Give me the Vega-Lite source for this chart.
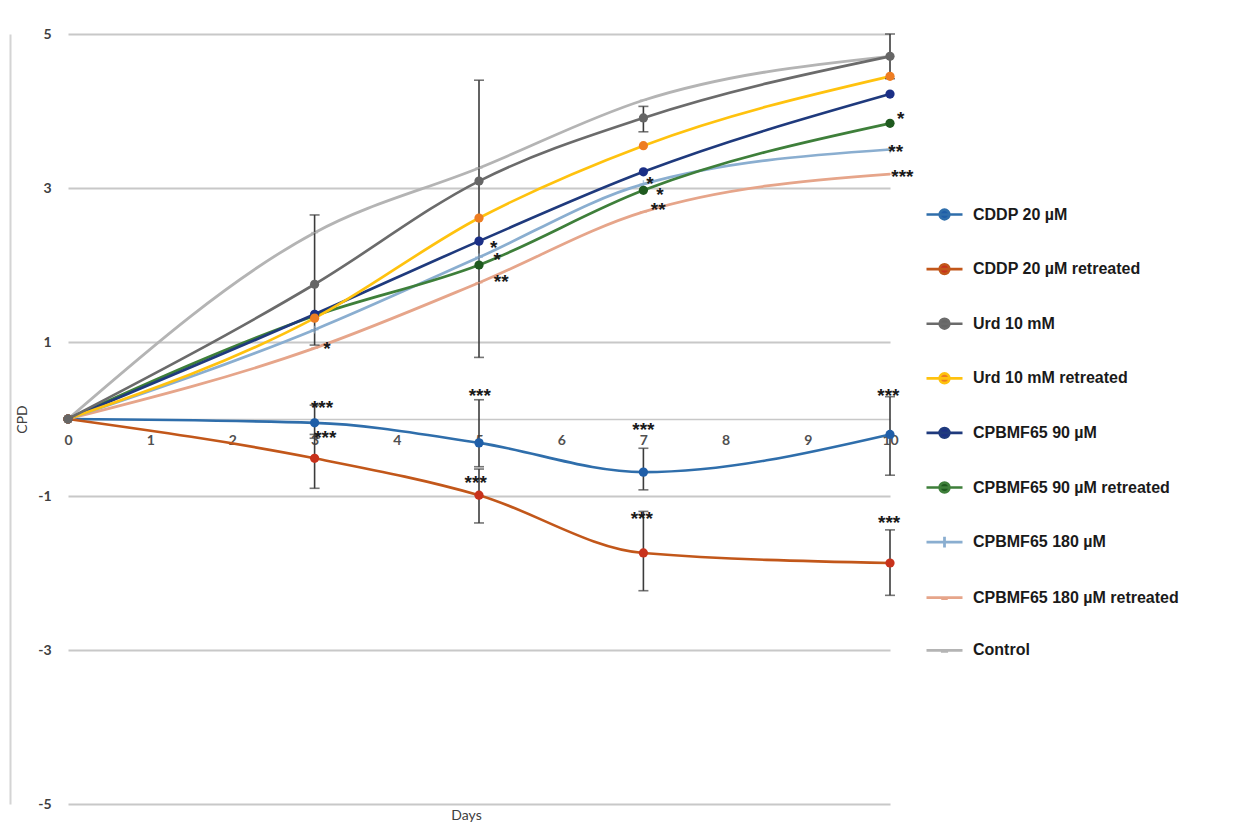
{
  "$schema": "https://vega.github.io/schema/vega-lite/v6.json",
  "width": 822,
  "height": 770,
  "autosize": {"type": "none"},
  "padding": {"left": 68, "top": 34, "right": 346, "bottom": 28},
  "background": "white",
  "config": {
    "view": {"stroke": null},
    "font": "Lato"
  },
  "datasets": {
    "cpd": [
      {"series": "CDDP 20 µM", "day": 0, "cpd": 0},
      {"series": "CDDP 20 µM", "day": 3, "cpd": -0.05},
      {"series": "CDDP 20 µM", "day": 5, "cpd": -0.31},
      {"series": "CDDP 20 µM", "day": 7, "cpd": -0.69},
      {"series": "CDDP 20 µM", "day": 10, "cpd": -0.2},
      {"series": "CDDP 20 µM retreated", "day": 0, "cpd": 0},
      {"series": "CDDP 20 µM retreated", "day": 3, "cpd": -0.51},
      {"series": "CDDP 20 µM retreated", "day": 5, "cpd": -0.99},
      {"series": "CDDP 20 µM retreated", "day": 7, "cpd": -1.74},
      {"series": "CDDP 20 µM retreated", "day": 10, "cpd": -1.87},
      {"series": "Control", "day": 0, "cpd": 0},
      {"series": "Control", "day": 3, "cpd": 2.42},
      {"series": "Control", "day": 5, "cpd": 3.26},
      {"series": "Control", "day": 7, "cpd": 4.14},
      {"series": "Control", "day": 10, "cpd": 4.71},
      {"series": "CPBMF65 180 µM retreated", "day": 0, "cpd": 0},
      {"series": "CPBMF65 180 µM retreated", "day": 3, "cpd": 0.92},
      {"series": "CPBMF65 180 µM retreated", "day": 5, "cpd": 1.77},
      {"series": "CPBMF65 180 µM retreated", "day": 7, "cpd": 2.69},
      {"series": "CPBMF65 180 µM retreated", "day": 10, "cpd": 3.18},
      {"series": "CPBMF65 180 µM", "day": 0, "cpd": 0},
      {"series": "CPBMF65 180 µM", "day": 3, "cpd": 1.16},
      {"series": "CPBMF65 180 µM", "day": 5, "cpd": 2.1},
      {"series": "CPBMF65 180 µM", "day": 7, "cpd": 3.05},
      {"series": "CPBMF65 180 µM", "day": 10, "cpd": 3.5},
      {"series": "CPBMF65 90 µM retreated", "day": 0, "cpd": 0},
      {"series": "CPBMF65 90 µM retreated", "day": 3, "cpd": 1.34},
      {"series": "CPBMF65 90 µM retreated", "day": 5, "cpd": 2.0},
      {"series": "CPBMF65 90 µM retreated", "day": 7, "cpd": 2.97},
      {"series": "CPBMF65 90 µM retreated", "day": 10, "cpd": 3.84},
      {"series": "CPBMF65 90 µM", "day": 0, "cpd": 0},
      {"series": "CPBMF65 90 µM", "day": 3, "cpd": 1.36},
      {"series": "CPBMF65 90 µM", "day": 5, "cpd": 2.31},
      {"series": "CPBMF65 90 µM", "day": 7, "cpd": 3.21},
      {"series": "CPBMF65 90 µM", "day": 10, "cpd": 4.22},
      {"series": "Urd 10 mM retreated", "day": 0, "cpd": 0},
      {"series": "Urd 10 mM retreated", "day": 3, "cpd": 1.31},
      {"series": "Urd 10 mM retreated", "day": 5, "cpd": 2.61},
      {"series": "Urd 10 mM retreated", "day": 7, "cpd": 3.55},
      {"series": "Urd 10 mM retreated", "day": 10, "cpd": 4.45},
      {"series": "Urd 10 mM", "day": 0, "cpd": 0},
      {"series": "Urd 10 mM", "day": 3, "cpd": 1.75},
      {"series": "Urd 10 mM", "day": 5, "cpd": 3.09},
      {"series": "Urd 10 mM", "day": 7, "cpd": 3.91},
      {"series": "Urd 10 mM", "day": 10, "cpd": 4.71}
    ],
    "err": [
      {"series": "CDDP 20 µM", "day": 3, "lo": -0.25, "hi": 0.18},
      {"series": "CDDP 20 µM", "day": 5, "lo": -0.62, "hi": 0.25},
      {"series": "CDDP 20 µM", "day": 7, "lo": -0.92, "hi": -0.38},
      {"series": "CDDP 20 µM", "day": 10, "lo": -0.73, "hi": 0.29},
      {"series": "CDDP 20 µM retreated", "day": 3, "lo": -0.9, "hi": -0.2},
      {"series": "CDDP 20 µM retreated", "day": 5, "lo": -1.35, "hi": -0.65},
      {"series": "CDDP 20 µM retreated", "day": 7, "lo": -2.23, "hi": -1.2},
      {"series": "CDDP 20 µM retreated", "day": 10, "lo": -2.29, "hi": -1.44},
      {"series": "Urd 10 mM", "day": 3, "lo": 0.96, "hi": 2.65},
      {"series": "Urd 10 mM", "day": 7, "lo": 3.73, "hi": 4.06},
      {"series": "Urd 10 mM", "day": 10, "lo": 4.42, "hi": 5.0},
      {"series": "Urd 10 mM retreated", "day": 5, "lo": 0.8, "hi": 4.4}
    ],
    "sig": [
      {"day": 3.15, "cpd": 0.99, "stars": "*"},
      {"day": 3.09, "cpd": 0.22, "stars": "***"},
      {"day": 3.13, "cpd": -0.17, "stars": "***"},
      {"day": 5.18, "cpd": 2.3, "stars": "*"},
      {"day": 5.22, "cpd": 2.14, "stars": "*"},
      {"day": 5.27, "cpd": 1.86, "stars": "**"},
      {"day": 5.01, "cpd": 0.38, "stars": "***"},
      {"day": 4.96, "cpd": -0.75, "stars": "***"},
      {"day": 7.08, "cpd": 3.13, "stars": "*"},
      {"day": 7.2, "cpd": 2.99, "stars": "*"},
      {"day": 7.18, "cpd": 2.79, "stars": "**"},
      {"day": 7.0, "cpd": -0.06, "stars": "***"},
      {"day": 6.98, "cpd": -1.22, "stars": "***"},
      {"day": 10.13, "cpd": 3.97, "stars": "*"},
      {"day": 10.07, "cpd": 3.55, "stars": "**"},
      {"day": 10.15, "cpd": 3.22, "stars": "***"},
      {"day": 9.98, "cpd": 0.38, "stars": "***"},
      {"day": 9.99, "cpd": -1.27, "stars": "***"}
    ]
  },
  "encoding": {
    "x": {
      "field": "day",
      "type": "quantitative",
      "scale": {"domain": [0, 10], "nice": false, "zero": false},
      "axis": {
        "title": "Days",
        "offset": -385,
        "values": [0, 1, 2, 3, 4, 5, 6, 7, 8, 9, 10],
        "grid": false,
        "ticks": false,
        "tickSize": 0,
        "domain": true,
        "domainColor": "#c8c8c8",
        "domainWidth": 1.5,
        "labelPadding": 14,
        "labelFont": "Lato",
        "labelFontSize": 14,
        "labelFontWeight": "bold",
        "labelColor": "#505050",
        "labelFlush": false,
        "titleFont": "Lato",
        "titleFontSize": 14,
        "titleFontWeight": "normal",
        "titleColor": "#404040",
        "titleX": 398,
        "titleY": 396,
        "titleAlign": "center",
        "titleBaseline": "middle"
      }
    }
  },
  "layer": [
    {
      "data": {"name": "cpd"},
      "mark": {"type": "line", "interpolate": "monotone"},
      "encoding": {
        "y": {
          "field": "cpd",
          "type": "quantitative",
          "scale": {"domain": [-5, 5], "nice": false, "zero": false},
          "axis": {
            "title": "CPD",
            "offset": 58,
            "values": [-5, -3, -1, 1, 3, 5],
            "labelExpr": "'' + datum.value",
            "grid": true,
            "gridColor": "#c8c8c8",
            "gridWidth": 1.8,
            "ticks": false,
            "tickSize": 0,
            "domain": true,
            "domainColor": "#d4d4d4",
            "domainWidth": 2,
            "labelPadding": -41,
            "labelAlign": "right",
            "labelBaseline": "middle",
            "labelFont": "Lato",
            "labelFontSize": 14,
            "labelFontWeight": "bold",
            "labelColor": "#404040",
            "titleFont": "Lato",
            "titleFontSize": 14,
            "titleFontWeight": "normal",
            "titleColor": "#404040",
            "titleAngle": -90,
            "titleX": 12,
            "titleY": 385,
            "titleAlign": "center",
            "titleBaseline": "middle"
          }
        },
        "stroke": {
          "field": "series",
          "type": "nominal",
          "scale": {
            "domain": ["CDDP 20 µM", "CDDP 20 µM retreated", "Urd 10 mM", "Urd 10 mM retreated", "CPBMF65 90 µM", "CPBMF65 90 µM retreated", "CPBMF65 180 µM", "CPBMF65 180 µM retreated", "Control"],
            "range": ["#2f6eab", "#c2571a", "#6b6b6b", "#ffc20e", "#1f3a7d", "#3e7f3a", "#8aaed0", "#e6a58a", "#b4b4b4"]
          },
          "legend": {
            "title": null,
            "orient": "none",
            "legendX": 857,
            "legendY": 161,
            "direction": "vertical",
            "symbolSize": 1296,
            "symbolStrokeWidth": 2.5,
            "rowPadding": 24.6,
            "labelOffset": 9,
            "labelFont": "Liberation Sans",
            "labelFontSize": 16,
            "labelFontWeight": "bold",
            "labelColor": "#1a1a1a",
            "labelLimit": 400,
            "encode": {
              "symbols": {
                "update": {
                  "shape": {"signal": "datum.value === 'CPBMF65 180 µM' ? 'M-1,0H1M0,-0.3V0.3' : datum.value === 'CPBMF65 180 µM retreated' ? 'M-1,0H1M-0.18,0.05H0.18' : datum.value === 'Control' ? 'M-1,0H1M-0.2,0.06H0.2' : 'M-1,0H1M-0.27,0A0.27,0.27,0,1,0,0.27,0A0.27,0.27,0,1,0,-0.27,0Z'"},
                  "stroke": {"scale": "stroke", "field": "value"},
                  "fill": {"scale": "fill", "field": "value"},
                  "strokeWidth": {"value": 2.5},
                  "opacity": {"value": 1}
                }
              }
            }
          }
        },
        "strokeWidth": {
          "field": "series",
          "type": "nominal",
          "scale": {
            "domain": ["CDDP 20 µM", "CDDP 20 µM retreated", "Urd 10 mM", "Urd 10 mM retreated", "CPBMF65 90 µM", "CPBMF65 90 µM retreated", "CPBMF65 180 µM", "CPBMF65 180 µM retreated", "Control"],
            "range": [2.6, 2.8, 3.2, 4, 2.6, 1.8, 1.3, 1.3, 1.6]
          },
          "legend": null
        }
      }
    },
    {
      "data": {"name": "err"},
      "mark": {"type": "rule", "color": "#3c3c3c", "strokeWidth": 1.6},
      "encoding": {
        "y": {"field": "lo", "type": "quantitative"},
        "y2": {"field": "hi"}
      }
    },
    {
      "data": {"name": "err"},
      "mark": {"type": "tick", "orient": "horizontal", "size": 10, "thickness": 1.6, "color": "#3c3c3c"},
      "encoding": {"y": {"field": "lo", "type": "quantitative"}}
    },
    {
      "data": {"name": "err"},
      "mark": {"type": "tick", "orient": "horizontal", "size": 10, "thickness": 1.6, "color": "#3c3c3c"},
      "encoding": {"y": {"field": "hi", "type": "quantitative"}}
    },
    {
      "data": {"name": "cpd"},
      "transform": [{"filter": "datum.series === 'Control' || datum.series === 'CPBMF65 180 µM retreated'"}],
      "mark": {"type": "point", "shape": "M-1,0H1", "size": 50, "filled": false, "strokeWidth": 1.6},
      "encoding": {
        "y": {"field": "cpd", "type": "quantitative"},
        "stroke": {"field": "series", "type": "nominal"}
      }
    },
    {
      "data": {"name": "cpd"},
      "transform": [{"filter": "datum.series === 'CPBMF65 180 µM'"}],
      "mark": {"type": "point", "shape": "M-1,0H1M0,-1V1", "size": 60, "filled": false, "strokeWidth": 1.4},
      "encoding": {
        "y": {"field": "cpd", "type": "quantitative"},
        "stroke": {"field": "series", "type": "nominal"}
      }
    },
    {
      "data": {"name": "cpd"},
      "transform": [{"filter": "datum.series !== 'Control' && datum.series !== 'CPBMF65 180 µM' && datum.series !== 'CPBMF65 180 µM retreated'"}],
      "mark": {"type": "point", "shape": "circle", "size": 85, "filled": true, "opacity": 1, "strokeWidth": 0},
      "encoding": {
        "y": {"field": "cpd", "type": "quantitative"},
        "fill": {
          "field": "series",
          "type": "nominal",
          "scale": {
            "domain": ["CDDP 20 µM", "CDDP 20 µM retreated", "Urd 10 mM", "Urd 10 mM retreated", "CPBMF65 90 µM", "CPBMF65 90 µM retreated", "CPBMF65 180 µM", "CPBMF65 180 µM retreated", "Control"],
            "range": ["#1f5ea8", "#c8321c", "#666666", "#ee7d22", "#1b2f86", "#1f5a1f", "#8aaed0", "#e6a58a", "#b4b4b4"]
          },
          "legend": null
        }
      }
    },
    {
      "data": {"name": "sig"},
      "mark": {"type": "text", "font": "Liberation Sans", "fontWeight": "bold", "fontSize": 19, "color": "#1a1a1a", "align": "center", "baseline": "alphabetic", "dy": 12},
      "encoding": {
        "y": {"field": "cpd", "type": "quantitative"},
        "text": {"field": "stars"}
      }
    }
  ]
}
